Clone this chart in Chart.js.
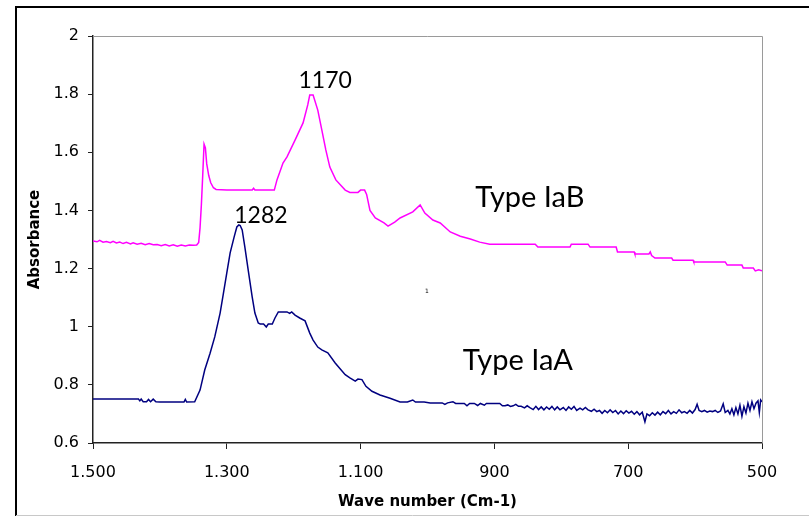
<!DOCTYPE html>
<html>
<head>
<meta charset="utf-8">
<script src="https://cdn.jsdelivr.net/npm/chart.js@4.4.1/dist/chart.umd.min.js"></script>
<style>
  html, body { margin: 0; padding: 0; background: #fff; }
  #wrap { width: 809px; height: 516px; }
</style>
</head>
<body>
<div id="wrap"><canvas id="myChart" width="809" height="516"></canvas></div>
<script>
// Type IaB spectrum (magenta)
let iabWave = [1500, 1494, 1490, 1485, 1480, 1474, 1470, 1465, 1460, 1455, 1450, 1444, 1440, 1434, 1428,
  1422, 1416, 1410, 1404, 1398, 1392, 1386, 1380, 1374, 1368, 1362, 1356, 1350, 1345, 1342, 1340, 1338,
  1336, 1334, 1332, 1330, 1327, 1324, 1320, 1316, 1300, 1280, 1262, 1260, 1258, 1229, 1225, 1216, 1210,
  1198, 1186, 1179, 1176, 1171, 1164, 1158, 1152, 1146, 1137, 1123, 1116, 1104, 1100, 1094, 1091, 1086,
  1078, 1065, 1059, 1049, 1041, 1022, 1011, 1004, 992, 981, 966, 951, 936, 922, 907, 839, 835, 787, 785,
  760, 757, 718, 716, 691, 690, 669, 667, 665, 660, 635, 633, 603, 602, 555, 552, 530, 528, 513, 510, 505, 500];
let iabAbs = [1.295, 1.292, 1.297, 1.291, 1.293, 1.289, 1.294, 1.288, 1.291, 1.286, 1.290, 1.285, 1.289, 1.284, 1.287,
  1.282, 1.286, 1.282, 1.283, 1.279, 1.283, 1.278, 1.282, 1.277, 1.281, 1.278, 1.281, 1.280, 1.281, 1.290, 1.340, 1.420,
  1.520, 1.628, 1.615, 1.560, 1.520, 1.495, 1.478, 1.472, 1.470, 1.470, 1.470, 1.476, 1.470, 1.470, 1.505, 1.563, 1.584,
  1.642, 1.701, 1.763, 1.797, 1.797, 1.745, 1.677, 1.608, 1.549, 1.505, 1.470, 1.462, 1.462, 1.470, 1.470, 1.455, 1.400,
  1.374, 1.357, 1.346, 1.360, 1.374, 1.395, 1.419, 1.391, 1.367, 1.357, 1.326, 1.311, 1.302, 1.291, 1.284, 1.284, 1.274, 1.274, 1.284,
  1.284, 1.274, 1.274, 1.257, 1.257, 1.250, 1.250, 1.257, 1.245, 1.236, 1.236, 1.229, 1.229, 1.223, 1.223, 1.212, 1.212, 1.202, 1.202, 1.192, 1.196, 1.192];

// Type IaA spectrum (navy)
let iaaWave = [1500, 1470, 1440, 1432, 1430, 1428, 1425, 1420, 1417, 1414, 1410, 1406, 1400, 1380, 1364, 1362, 1360,
  1348, 1340, 1333, 1325, 1318, 1310, 1306, 1300, 1295, 1289, 1285, 1282, 1280, 1277, 1273, 1268, 1262, 1258, 1253,
  1250, 1245, 1241, 1238, 1232, 1228, 1223, 1210, 1206, 1203, 1198, 1191, 1183, 1176, 1171, 1164, 1158, 1149, 1138,
  1131, 1123, 1116, 1108, 1104, 1098, 1092, 1083, 1071, 1056, 1041, 1030, 1022, 1018, 1005,
  996, 985, 978, 974, 970, 962, 958, 950, 945, 941, 937, 930, 925, 921, 915, 912, 905, 896, 892, 888, 884, 880, 876,
  872, 868, 864, 860, 855, 851, 847, 842, 838, 834, 830, 826, 822, 818, 814, 810, 806, 802, 797, 793, 789, 785, 781,
  777, 772, 768, 764, 760, 755, 751, 747, 743, 739, 735, 731, 727, 723, 719, 715, 711, 707, 703, 699, 695, 691, 687,
  683, 679, 675, 672, 668, 664, 660, 656, 652, 648, 644, 640, 636, 632, 628, 624, 620, 616, 612, 608, 604, 600, 597,
  594, 590, 586, 582, 578, 574, 570, 566, 562, 558, 555, 551, 548, 545, 542, 539, 536, 533, 530, 527, 524, 521, 518,
  515, 512, 509, 506, 504, 502, 500];
let iaaAbs = [0.751, 0.751, 0.751, 0.751, 0.745, 0.751, 0.742, 0.742, 0.750, 0.742, 0.751, 0.742, 0.741, 0.741, 0.741, 0.750, 0.741,
  0.742, 0.782, 0.851, 0.909, 0.965, 1.047, 1.102, 1.185, 1.254, 1.309, 1.343, 1.350, 1.348, 1.333, 1.274, 1.195, 1.102, 1.047, 1.013,
  1.009, 1.009, 0.999, 1.009, 1.009, 1.030, 1.051, 1.051, 1.046, 1.051, 1.040, 1.030, 1.020, 0.978, 0.954, 0.930, 0.920, 0.910, 0.875,
  0.856, 0.835, 0.824, 0.813, 0.820, 0.818, 0.795, 0.778, 0.765, 0.754, 0.741, 0.741, 0.748, 0.741, 0.741,
  0.738, 0.738, 0.738, 0.733, 0.738, 0.742, 0.736, 0.736, 0.736, 0.728, 0.736, 0.736, 0.729, 0.736, 0.730, 0.736, 0.736, 0.736, 0.736, 0.728, 0.728, 0.731, 0.726,
  0.728, 0.733, 0.726, 0.726, 0.721, 0.728, 0.722, 0.715, 0.726, 0.715, 0.724, 0.714, 0.724, 0.716, 0.726, 0.714, 0.724, 0.714, 0.722, 0.712, 0.724, 0.716, 0.726,
  0.712, 0.720, 0.714, 0.722, 0.714, 0.709, 0.716, 0.708, 0.712, 0.702, 0.712, 0.704, 0.714, 0.705, 0.712, 0.700, 0.710, 0.701, 0.711, 0.703, 0.709, 0.699, 0.708,
  0.697, 0.706, 0.673, 0.700, 0.694, 0.704, 0.696, 0.706, 0.697, 0.708, 0.701, 0.712, 0.700, 0.708, 0.702, 0.714, 0.704, 0.708, 0.702, 0.712, 0.703, 0.715, 0.733,
  0.712, 0.708, 0.712, 0.706, 0.710, 0.708, 0.712, 0.705, 0.710, 0.735, 0.705, 0.712, 0.700, 0.718, 0.697, 0.722, 0.700, 0.730, 0.692, 0.725, 0.703, 0.737, 0.712,
  0.742, 0.718, 0.737, 0.745, 0.705, 0.748, 0.742];

let xTicks = [1500, 1300, 1100, 900, 700, 500];
let xTickLabels = ["1.500", "1.300", "1.100", "900", "700", "500"];
let yTickLabels = ["0.6", "0.8", "1", "1.2", "1.4", "1.6", "1.8", "2"];

// text placed on the plot, in data units
let notes = [
  { text: "1170", wave: 1153, abs: 1.821, font: "23px Lato" },
  { text: "1282", wave: 1249, abs: 1.357, font: "23px Lato" },
  { text: "Type IaB", wave: 847, abs: 1.412, font: "29px Lato" },
  { text: "Type IaA", wave: 865, abs: 0.851, font: "29px Lato" },
  { text: "1", wave: 1001, abs: 1.116, font: "6px 'DejaVu Sans'" }
];

function toPoints(xs, ys) {
  return xs.map((x, i) => ({ x: x, y: ys[i] }));
}

Chart.defaults.font.family = "'DejaVu Sans', sans-serif";
Chart.defaults.color = "#000";

const frame = {
  id: "frame",
  afterDraw(chart) {
    const ctx = chart.ctx;
    const a = chart.chartArea;
    ctx.save();
    // plot area top / right edge
    ctx.strokeStyle = "#9a9a9a";
    ctx.lineWidth = 1;
    ctx.beginPath();
    ctx.moveTo(a.left, a.top + 0.5);
    ctx.lineTo(a.right + 0.5, a.top + 0.5);
    ctx.lineTo(a.right + 0.5, a.bottom);
    ctx.stroke();
    // outer frame
    ctx.strokeStyle = "#000";
    ctx.lineWidth = 2;
    ctx.beginPath();
    ctx.moveTo(16, 516);
    ctx.lineTo(16, 7);
    ctx.lineTo(809, 7);
    ctx.stroke();
    ctx.strokeStyle = "#c8c8c8";
    ctx.lineWidth = 1;
    ctx.beginPath();
    ctx.moveTo(16, 515.5);
    ctx.lineTo(809, 515.5);
    ctx.stroke();
    // labels
    const xs = chart.scales.x, ys = chart.scales.y;
    ctx.fillStyle = "#000";
    ctx.textAlign = "center";
    ctx.textBaseline = "alphabetic";
    notes.forEach(n => {
      ctx.font = n.font;
      ctx.fillText(n.text, xs.getPixelForValue(n.wave), ys.getPixelForValue(n.abs));
    });
    ctx.restore();
  }
};

let ctx = document.getElementById("myChart").getContext("2d");
let myChart = new Chart(ctx, {
  type: "scatter",
  data: {
    datasets: [
      {
        label: "Type IaB",
        data: toPoints(iabWave, iabAbs),
        showLine: true,
        borderColor: "#ff00ff",
        borderWidth: 1.5,
        pointRadius: 0,
        tension: 0
      },
      {
        label: "Type IaA",
        data: toPoints(iaaWave, iaaAbs),
        showLine: true,
        borderColor: "#000080",
        borderWidth: 1.5,
        pointRadius: 0,
        tension: 0
      }
    ]
  },
  options: {
    responsive: false,
    animation: false,
    layout: { padding: { left: 0, top: 36, right: 47, bottom: 0 } },
    plugins: { legend: { display: false }, tooltip: { enabled: false } },
    scales: {
      x: {
        type: "linear",
        reverse: true,
        min: 500,
        max: 1500,
        afterFit: s => { s.height = 73; },
        afterBuildTicks: s => { s.ticks = xTicks.map(v => ({ value: v })); },
        ticks: {
          font: { size: 16 },
          padding: 14,
          maxRotation: 0,
          callback: v => xTickLabels[xTicks.indexOf(Math.round(v))]
        },
        grid: { drawOnChartArea: false, drawTicks: true, tickLength: 6, tickColor: "#222" },
        border: { color: "#222", width: 1.5 },
        title: {
          display: true,
          text: "Wave number (Cm-1)",
          font: { size: 15, weight: "bold" },
          padding: { top: 0, bottom: 5 }
        }
      },
      y: {
        min: 0.6,
        max: 2,
        afterFit: s => { s.width = 93; },
        ticks: {
          stepSize: 0.2,
          font: { size: 16 },
          padding: 9,
          callback: (v, i) => yTickLabels[i]
        },
        grid: { drawOnChartArea: false, drawTicks: true, tickLength: 5, tickColor: "#222" },
        border: { color: "#222", width: 1.5 },
        title: {
          display: true,
          text: "Absorbance",
          font: { size: 15, weight: "bold" },
          padding: { top: 26, bottom: 0 }
        }
      }
    }
  },
  plugins: [frame]
});
</script>
</body>
</html>
